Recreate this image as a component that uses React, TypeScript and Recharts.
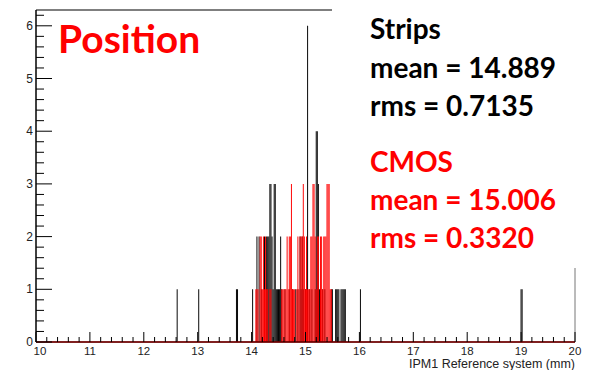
import React from "react"
import { ComposedChart, Bar, XAxis, YAxis, ReferenceLine } from "recharts"

// Strips histogram (black): bin centre (mm) and entries
const stripX = [
  12.62, 13.02, 13.72, 13.74, 14.02, 14.1, 14.14, 14.18, 14.24, 14.28, 14.3, 14.32, 14.34, 14.36, 14.38,
  14.4, 14.42, 14.44, 14.46, 14.48, 14.5, 14.52, 14.54, 14.56, 14.62, 14.7, 14.76, 14.82, 14.86, 14.9,
  14.92, 14.94, 14.96, 15.0, 15.04, 15.08, 15.12, 15.18, 15.2, 15.22, 15.24, 15.26, 15.28, 15.32, 15.36,
  15.48, 15.5, 15.56, 15.58, 15.6, 15.62, 15.66, 15.68, 15.7, 15.72, 15.74, 16.02, 19.0, 19.02,
]
const stripCount = [
  1, 1, 1, 1, 1, 2, 2, 1, 2, 2, 2, 2, 3, 3, 2,
  1, 3, 3, 1, 1, 1, 1, 2, 1, 1, 1, 1, 1, 1, 2,
  1, 2, 1, 1, 6, 1, 1, 1, 4, 4, 3, 1, 1, 1, 1,
  1, 1, 1, 1, 1, 1, 1, 1, 1, 1, 1, 1, 1, 1,
]

// CMOS histogram (red)
const cmosX = [
  14.08, 14.1, 14.12, 14.16, 14.18, 14.2, 14.22, 14.24, 14.26, 14.28, 14.3, 14.34, 14.36,
  14.56, 14.58, 14.6, 14.62, 14.64, 14.66, 14.68, 14.7, 14.72, 14.74, 14.76, 14.78, 14.8,
  14.84, 14.86, 14.88, 14.9, 14.92, 14.94, 14.96, 14.98, 15.0, 15.02, 15.04, 15.06, 15.08,
  15.1, 15.12, 15.14, 15.16, 15.18, 15.2, 15.22, 15.24, 15.28, 15.3, 15.32, 15.34, 15.36,
  15.38, 15.4, 15.42, 15.44, 15.46, 15.48,
]
const cmosCount = [
  1, 1, 1, 2, 2, 1, 2, 1, 2, 1, 1, 1, 1,
  1, 1, 1, 1, 1, 2, 1, 2, 2, 3, 1, 1, 1,
  1, 2, 1, 2, 2, 2, 3, 2, 1, 2, 1, 1, 1,
  2, 2, 3, 3, 2, 1, 2, 2, 2, 2, 1, 2, 2,
  2, 3, 3, 3, 1, 1,
]

const X_LABELS = [10, 11, 12, 13, 14, 15, 16, 17, 18, 19, 20]
const Y_LABELS = [0, 1, 2, 3, 4, 5, 6]
const Y_MAX = 6.3

const stats = [
  { text: "Strips", color: "#000" },
  { text: "mean = 14.889", color: "#000" },
  { text: "rms = 0.7135", color: "#000" },
  { text: "CMOS", color: "#ff0000" },
  { text: "mean = 15.006", color: "#ff0000" },
  { text: "rms = 0.3320", color: "#ff0000" },
]
const statBaselines = [39, 78, 116, 172, 210, 247.5]

// merge both histograms into one table keyed by bin centre
const table = (() => {
  const m = new Map<number, { x: number; strips: number | null; cmos: number | null }>()
  stripX.forEach((x, i) => m.set(x, { x, strips: stripCount[i], cmos: null }))
  cmosX.forEach((x, i) => {
    const r = m.get(x)
    if (r) r.cmos = cmosCount[i]
    else m.set(x, { x, strips: null, cmos: cmosCount[i] })
  })
  return [...m.values()].sort((a, b) => a.x - b.x)
})()

// 4 minor ticks between majors (ROOT style)
const withMinors = (majors: number[]) => {
  const out: number[] = []
  majors.forEach((v, i) => {
    out.push(v)
    if (i < majors.length - 1) {
      const step = (majors[i + 1] - v) / 5
      for (let k = 1; k < 5; k++) out.push(+(v + k * step).toFixed(3))
    }
  })
  return out
}
const xTicks = withMinors(X_LABELS)
const yTicks = [...withMinors(Y_LABELS), 6.2]

const isMajor = (v: number) => Math.abs(v - Math.round(v)) < 1e-6
const labelFont = "'Liberation Sans', Arial, sans-serif"

// ROOT draws ticks inward, so tick lines point into the frame
const XTick = (props: any) => {
  const { x, y, payload } = props
  const v = payload.value
  const major = isMajor(v)
  return (
    <g>
      <line x1={x} x2={x} y1={y} y2={y - (major ? 10 : 5)} stroke="#000" strokeWidth={1} />
      {major && (
        <text
          x={v === 10 ? x + 4 : x}
          y={y + 12.5}
          textAnchor="middle"
          fontFamily={labelFont}
          fontSize={11.5}
          fill="#222"
        >
          {v}
        </text>
      )}
    </g>
  )
}

const YTick = (props: any) => {
  const { x, y, payload } = props
  const v = payload.value
  const major = isMajor(v)
  return (
    <g>
      <line x1={x} x2={x + (major ? 16 : 8)} y1={y} y2={y} stroke="#000" strokeWidth={1} />
      {major && (
        <text x={x - 3} y={y + 4} textAnchor="end" fontFamily={labelFont} fontSize={12} fill="#222">
          {v}
        </text>
      )}
    </g>
  )
}

export default function App() {
  return (
    <div style={{ position: "fixed", left: 0, top: 0, width: 602, height: 370, background: "#fff" }}>
      <ComposedChart
        width={602}
        height={370}
        data={table}
        margin={{ top: 10, right: 27, left: 0, bottom: 0 }}
      >
        <XAxis
          xAxisId="s"
          dataKey="x"
          type="number"
          domain={[10, 20]}
          ticks={xTicks}
          interval={0}
          height={28}
          tickSize={0}
          tickMargin={0}
          tick={XTick}
          axisLine={{ stroke: "#000", strokeWidth: 1 }}
          allowDataOverflow
        />
        {/* second x axis so the red bars overlay the black ones instead of sitting beside them */}
        <XAxis
          xAxisId="c"
          dataKey="x"
          type="number"
          domain={[10, 20]}
          orientation="top"
          height={0}
          hide
          allowDataOverflow
        />
        <YAxis
          type="number"
          domain={[0, Y_MAX]}
          ticks={yTicks}
          interval={0}
          width={36}
          tickSize={0}
          tickMargin={0}
          tick={YTick}
          axisLine={{ stroke: "#000", strokeWidth: 1.5 }}
          allowDataOverflow
        />
        <ReferenceLine xAxisId="s" y={Y_MAX} stroke="#555" strokeWidth={1.5} />
        <ReferenceLine xAxisId="s" x={20} stroke="#777" strokeWidth={1} />
        <Bar xAxisId="s" dataKey="strips" fill="#000" barSize={1.8} isAnimationActive={false} />
        <Bar xAxisId="c" dataKey="cmos" fill="#ff0000" barSize={2} isAnimationActive={false} />
        <ReferenceLine xAxisId="s" y={0} stroke="#ff0000" strokeWidth={1.5} />
      </ComposedChart>

      <svg
        width={602}
        height={370}
        style={{ position: "absolute", left: 0, top: 0, pointerEvents: "none" }}
      >
        <rect x={332} y={0} width={270} height={268} fill="#fff" />
        <text x={58} y={53} fontFamily="Lato, 'Open Sans', sans-serif" fontWeight={700} fontSize={39} fill="#ff0000">
          Position
        </text>
        {stats.map((s, i) => (
          <text
            key={s.text}
            x={370}
            y={statBaselines[i]}
            fontFamily="Lato, 'Open Sans', sans-serif"
            fontWeight={700}
            fontSize={28}
            fill={s.color}
          >
            {s.text}
          </text>
        ))}
        <text x={575} y={368} textAnchor="end" fontFamily={labelFont} fontSize={12.5} fill="#222">
          IPM1 Reference system (mm)
        </text>
      </svg>
    </div>
  )
}
